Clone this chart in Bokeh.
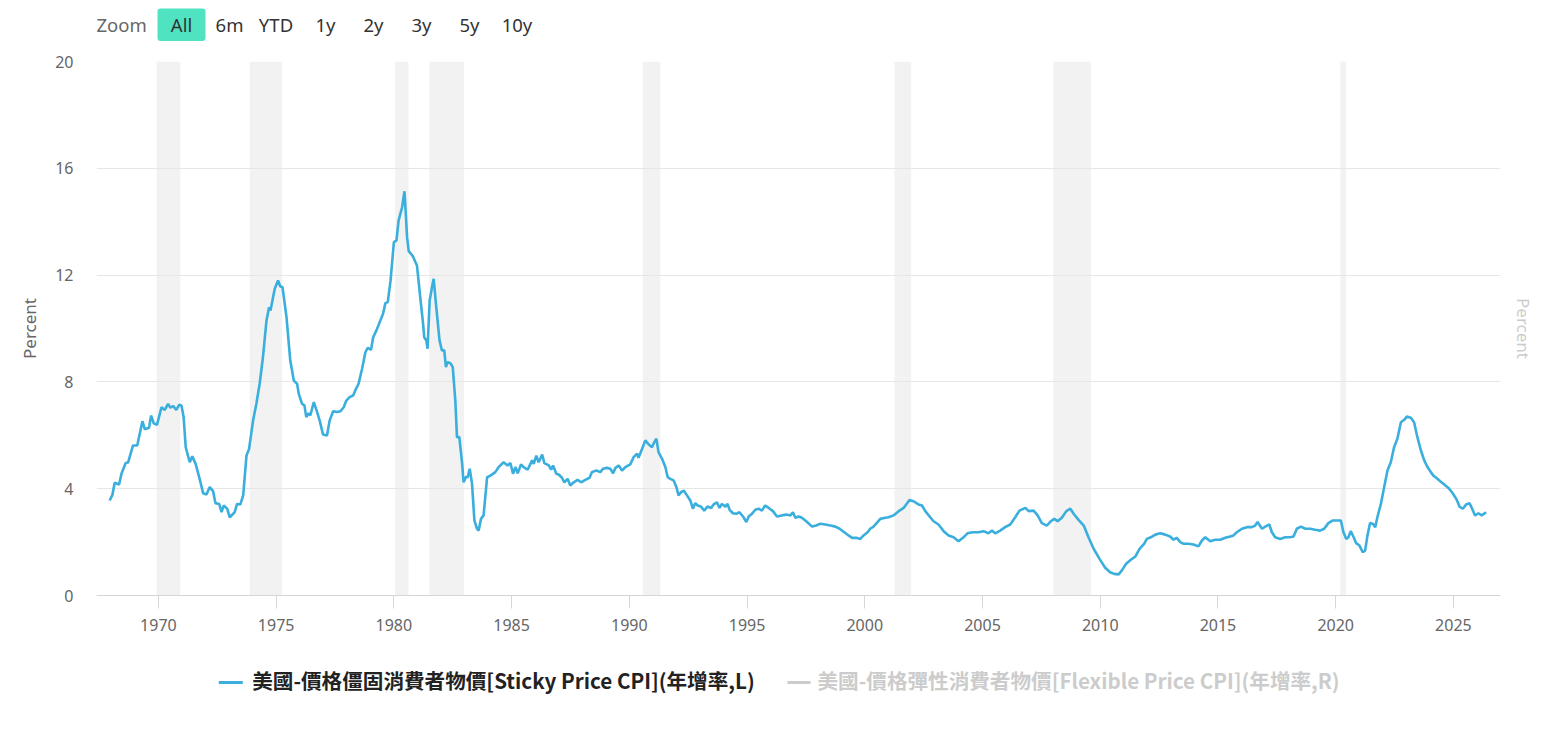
from bokeh.plotting import figure
from bokeh.layouts import column
from bokeh.models import (Range1d, LinearAxis, FixedTicker, Label, BoxAnnotation)
from bokeh.embed import file_html
from bokeh.resources import INLINE

# ---------------- data ----------------
years = [
    1967.93, 1968.05, 1968.14, 1968.33, 1968.43, 1968.61, 1968.71, 1968.92, 1969.10, 1969.32,
    1969.42, 1969.60, 1969.69, 1969.80, 1969.94, 1970.13, 1970.27, 1970.41, 1970.51, 1970.62,
    1970.76, 1970.88, 1970.98, 1971.07, 1971.16, 1971.33, 1971.44, 1971.58, 1971.75, 1971.90,
    1972.04, 1972.18, 1972.32, 1972.42, 1972.58, 1972.68, 1972.77, 1972.92, 1973.03, 1973.24,
    1973.34, 1973.48, 1973.60, 1973.74, 1973.85, 1974.02, 1974.16, 1974.30, 1974.44, 1974.59,
    1974.70, 1974.76, 1974.94, 1975.08, 1975.18, 1975.27, 1975.44, 1975.60, 1975.75, 1975.89,
    1975.96, 1976.10, 1976.20, 1976.28, 1976.38, 1976.45, 1976.60, 1976.74, 1976.85, 1976.99,
    1977.16, 1977.27, 1977.42, 1977.59, 1977.73, 1977.87, 1977.98, 1978.12, 1978.27, 1978.36,
    1978.50, 1978.65, 1978.79, 1978.89, 1979.03, 1979.12, 1979.26, 1979.40, 1979.54, 1979.64,
    1979.74, 1979.86, 1980.00, 1980.11, 1980.20, 1980.35, 1980.45, 1980.49, 1980.56, 1980.63,
    1980.81, 1980.98, 1981.12, 1981.24, 1981.29, 1981.38, 1981.43, 1981.52, 1981.62, 1981.69,
    1981.80, 1981.94, 1982.04, 1982.14, 1982.21, 1982.28, 1982.40, 1982.50, 1982.61, 1982.68,
    1982.78, 1982.90, 1982.96, 1983.08, 1983.13, 1983.22, 1983.32, 1983.42, 1983.53, 1983.60,
    1983.70, 1983.81, 1983.96, 1984.10, 1984.31, 1984.45, 1984.66, 1984.83, 1984.95, 1985.06,
    1985.16, 1985.26, 1985.40, 1985.51, 1985.68, 1985.87, 1985.94, 1986.05, 1986.15, 1986.30,
    1986.39, 1986.58, 1986.68, 1986.76, 1986.90, 1987.00, 1987.14, 1987.24, 1987.38, 1987.49,
    1987.64, 1987.80, 1987.95, 1988.13, 1988.31, 1988.41, 1988.60, 1988.77, 1988.88, 1989.05,
    1989.19, 1989.31, 1989.41, 1989.55, 1989.69, 1989.83, 1990.04, 1990.18, 1990.33, 1990.39,
    1990.54, 1990.68, 1990.82, 1990.96, 1991.06, 1991.15, 1991.24, 1991.39, 1991.53, 1991.63,
    1991.74, 1991.88, 1992.00, 1992.09, 1992.20, 1992.31, 1992.48, 1992.59, 1992.70, 1992.80,
    1992.90, 1993.04, 1993.18, 1993.32, 1993.47, 1993.58, 1993.72, 1993.83, 1993.93, 1994.08,
    1994.17, 1994.26, 1994.40, 1994.54, 1994.68, 1994.85, 1994.97, 1995.07, 1995.21, 1995.35,
    1995.49, 1995.63, 1995.77, 1995.92, 1996.10, 1996.27, 1996.48, 1996.67, 1996.84, 1996.95,
    1997.05, 1997.19, 1997.33, 1997.55, 1997.76, 1997.94, 1998.11, 1998.32, 1998.54, 1998.75,
    1998.93, 1999.13, 1999.31, 1999.46, 1999.64, 1999.81, 1999.95, 2000.12, 2000.23, 2000.37,
    2000.54, 2000.66, 2000.87, 2001.01, 2001.22, 2001.44, 2001.65, 2001.90, 2002.07, 2002.28,
    2002.43, 2002.57, 2002.78, 2002.92, 2003.13, 2003.35, 2003.56, 2003.77, 2003.98, 2004.17,
    2004.36, 2004.59, 2004.83, 2005.04, 2005.25, 2005.40, 2005.54, 2005.75, 2005.96, 2006.18,
    2006.39, 2006.57, 2006.82, 2006.96, 2007.17, 2007.34, 2007.52, 2007.73, 2007.90, 2008.05,
    2008.19, 2008.37, 2008.56, 2008.73, 2008.87, 2009.08, 2009.30, 2009.50, 2009.72, 2009.97,
    2010.21, 2010.42, 2010.59, 2010.78, 2010.92, 2011.10, 2011.30, 2011.49, 2011.67, 2011.87,
    2011.98, 2012.15, 2012.34, 2012.55, 2012.76, 2012.97, 2013.11, 2013.25, 2013.40, 2013.53,
    2013.75, 2013.96, 2014.17, 2014.32, 2014.46, 2014.67, 2014.88, 2015.10, 2015.31, 2015.52,
    2015.66, 2015.80, 2016.02, 2016.23, 2016.44, 2016.58, 2016.68, 2016.87, 2017.01, 2017.18,
    2017.29, 2017.43, 2017.64, 2017.86, 2018.07, 2018.21, 2018.35, 2018.52, 2018.71, 2018.92,
    2019.13, 2019.34, 2019.51, 2019.69, 2019.88, 2020.05, 2020.22, 2020.33, 2020.45, 2020.54,
    2020.64, 2020.75, 2020.87, 2021.01, 2021.15, 2021.25, 2021.35, 2021.46, 2021.58, 2021.68,
    2021.77, 2021.92, 2022.06, 2022.20, 2022.34, 2022.48, 2022.62, 2022.77, 2022.91, 2023.02,
    2023.19, 2023.33, 2023.47, 2023.62, 2023.76, 2023.90, 2024.04, 2024.15, 2024.27, 2024.44,
    2024.61, 2024.79, 2024.97, 2025.12, 2025.26, 2025.40, 2025.54, 2025.68, 2025.78, 2025.92,
    2026.06, 2026.20, 2026.39,
]
sticky_cpi = [
    3.56, 3.78, 4.22, 4.16, 4.56, 4.96, 4.98, 5.62, 5.62, 6.53,
    6.23, 6.28, 6.74, 6.45, 6.39, 7.05, 6.95, 7.18, 7.03, 7.10,
    6.95, 7.14, 7.12, 6.68, 5.55, 4.99, 5.21, 4.93, 4.37, 3.83,
    3.78, 4.06, 3.91, 3.46, 3.43, 3.12, 3.37, 3.25, 2.93, 3.12,
    3.43, 3.41, 3.75, 5.24, 5.49, 6.55, 7.18, 7.93, 8.93, 10.30,
    10.80, 10.67, 11.49, 11.80, 11.57, 11.55, 10.42, 8.80, 8.05, 7.93,
    7.55, 7.18, 7.12, 6.68, 6.83, 6.74, 7.24, 6.87, 6.55, 6.03,
    5.99, 6.55, 6.90, 6.87, 6.90, 7.05, 7.30, 7.43, 7.49, 7.68,
    7.93, 8.49, 9.11, 9.28, 9.20, 9.67, 9.93, 10.24, 10.55, 10.95,
    10.99, 11.80, 13.23, 13.30, 14.04, 14.54, 15.14, 14.54, 13.42, 12.90,
    12.70, 12.36, 11.17, 10.18, 9.67, 9.55, 9.24, 11.05, 11.55, 11.86,
    10.80, 9.55, 9.18, 9.18, 8.55, 8.74, 8.70, 8.55, 7.30, 5.93,
    5.93, 4.93, 4.24, 4.46, 4.41, 4.75, 4.18, 2.81, 2.50, 2.43,
    2.87, 3.00, 4.43, 4.49, 4.62, 4.81, 4.99, 4.87, 4.96, 4.56,
    4.81, 4.58, 4.91, 4.81, 4.71, 5.06, 4.93, 5.24, 4.99, 5.28,
    4.96, 4.87, 4.71, 4.87, 4.56, 4.53, 4.41, 4.24, 4.37, 4.12,
    4.24, 4.33, 4.24, 4.33, 4.41, 4.62, 4.68, 4.62, 4.75, 4.78,
    4.75, 4.58, 4.78, 4.87, 4.68, 4.81, 4.91, 5.18, 5.31, 5.16,
    5.49, 5.81, 5.66, 5.55, 5.74, 5.87, 5.37, 5.12, 4.81, 4.43,
    4.37, 4.31, 4.06, 3.75, 3.87, 3.93, 3.71, 3.56, 3.25, 3.46,
    3.37, 3.33, 3.18, 3.33, 3.28, 3.41, 3.49, 3.28, 3.43, 3.33,
    3.43, 3.21, 3.08, 3.06, 3.12, 2.93, 2.75, 2.96, 3.06, 3.21,
    3.25, 3.18, 3.37, 3.28, 3.16, 2.96, 3.00, 3.03, 3.00, 3.12,
    2.91, 2.96, 2.91, 2.75, 2.58, 2.62, 2.69, 2.66, 2.62, 2.58,
    2.50, 2.37, 2.25, 2.16, 2.16, 2.12, 2.25, 2.37, 2.50, 2.58,
    2.75, 2.87, 2.91, 2.93, 3.00, 3.16, 3.28, 3.58, 3.53, 3.41,
    3.37, 3.16, 2.93, 2.78, 2.66, 2.41, 2.25, 2.18, 2.03, 2.16,
    2.33, 2.37, 2.37, 2.41, 2.33, 2.43, 2.33, 2.43, 2.56, 2.66,
    2.93, 3.18, 3.28, 3.16, 3.18, 3.00, 2.71, 2.62, 2.78, 2.87,
    2.78, 2.91, 3.16, 3.25, 3.06, 2.83, 2.62, 2.18, 1.75, 1.37,
    1.04, 0.87, 0.81, 0.79, 0.94, 1.19, 1.34, 1.46, 1.75, 1.94,
    2.12, 2.18, 2.28, 2.33, 2.28, 2.21, 2.09, 2.16, 2.00, 1.94,
    1.94, 1.91, 1.84, 2.06, 2.18, 2.03, 2.09, 2.09, 2.16, 2.21,
    2.25, 2.37, 2.50, 2.56, 2.56, 2.62, 2.75, 2.50, 2.58, 2.66,
    2.37, 2.18, 2.12, 2.18, 2.18, 2.21, 2.50, 2.58, 2.50, 2.50,
    2.46, 2.43, 2.50, 2.71, 2.81, 2.81, 2.81, 2.37, 2.12, 2.18,
    2.41, 2.21, 1.96, 1.87, 1.62, 1.68, 2.25, 2.71, 2.69, 2.56,
    2.93, 3.43, 4.06, 4.68, 4.99, 5.55, 5.87, 6.49, 6.58, 6.70,
    6.66, 6.49, 5.93, 5.43, 5.06, 4.81, 4.62, 4.49, 4.41, 4.28,
    4.16, 4.03, 3.83, 3.62, 3.33, 3.25, 3.41, 3.46, 3.28, 3.00,
    3.08, 3.00, 3.12,
]

recession_start = [1969.92, 1973.88, 1980.06, 1981.51, 1990.57, 2001.26, 2008.01, 2020.20]
recession_end = [1970.93, 1975.25, 1980.62, 1982.98, 1991.32, 2001.97, 2009.61, 2020.44]

x_ticks = [1970, 1975, 1980, 1985, 1990, 1995, 2000, 2005, 2010, 2015, 2020, 2025]
y_ticks = [0, 4, 8, 12, 16, 20]
zoom_buttons = ["All", "6m", "YTD", "1y", "2y", "3y", "5y", "10y"]
series_names = ["美國-價格僵固消費者物價[Sticky Price CPI](年增率,L)",
                "美國-價格彈性消費者物價[Flexible Price CPI](年增率,R)"]
series_colors = ["#3aaedd", "#cccccc"]
series_text_colors = ["#222222", "#cccccc"]

LATIN = "Noto Sans"
CJK = "Noto Sans CJK TC"
W = 1544
FRAME_L, FRAME_R = 96, 1500   # page pixels of the plot area's left/right edges


def bare(y0, y1):
    """A strip whose data coordinates are page pixels (x right, y down)."""
    f = figure(width=W, height=abs(y1 - y0), output_backend="svg",
               toolbar_location=None,
               x_range=Range1d(FRAME_L, FRAME_R), y_range=Range1d(y1, y0),
               x_axis_type=None, y_axis_type=None,
               min_border_left=FRAME_L, min_border_right=W - FRAME_R,
               min_border_top=0, min_border_bottom=0)
    f.outline_line_color = None
    f.grid.visible = False
    f.background_fill_color = "white"
    f.border_fill_color = "white"
    return f


# ---------------- range selector bar (top) ----------------
top = bare(0, 48)
top.add_layout(BoxAnnotation(left=157, right=205, top=8, bottom=40.5,
                             fill_color="#4fe3c2", fill_alpha=1.0, line_color=None,
                             border_radius=3))
top.add_layout(Label(x=96, y=24, text="Zoom", text_font=LATIN, text_font_size="18.5px",
                     text_color="#666666", text_align="left", text_baseline="middle"))
button_centers = [181, 229, 275.5, 325, 373, 421, 469, 516.5]
for txt, cx in zip(zoom_buttons, button_centers):
    top.add_layout(Label(x=cx, y=24, text=txt, text_font=LATIN, text_font_size="18.5px",
                         text_color="#333333", text_align="center",
                         text_baseline="middle"))

# ---------------- main chart ----------------
p = figure(width=W, height=597, output_backend="svg", toolbar_location=None,
           x_range=Range1d(1967.37, 2027.0), y_range=Range1d(0, 20),
           min_border_left=FRAME_L, min_border_right=W - FRAME_R, min_border_top=13,
           min_border_bottom=50)
p.outline_line_color = None
p.background_fill_color = "white"
p.border_fill_color = "white"

bands = p.quad(left=recession_start, right=recession_end, bottom=0, top=20,
               fill_color="#f2f2f2", line_color=None)
bands.level = "image"

p.xgrid.visible = False
p.ygrid.ticker = FixedTicker(ticks=y_ticks)
p.ygrid.grid_line_color = "#e6e6e6"
p.ygrid.grid_line_width = 1

xa = p.xaxis[0]
xa.ticker = FixedTicker(ticks=x_ticks)
xa.axis_line_color = "#d6d6d6"
xa.major_tick_line_color = "#d6d6d6"
xa.major_tick_in = 0
xa.major_tick_out = 13
xa.minor_tick_line_color = None
xa.major_label_standoff = 10
xa.major_label_text_color = "#666666"
xa.major_label_text_font = LATIN
xa.major_label_text_font_size = "16px"

ya = p.yaxis[0]
ya.ticker = FixedTicker(ticks=y_ticks)
ya.axis_line_color = None
ya.major_tick_line_color = None
ya.minor_tick_line_color = None
ya.major_tick_in = 0
ya.major_tick_out = 0
ya.major_label_standoff = 23
ya.major_label_text_color = "#666666"
ya.major_label_text_font = LATIN
ya.major_label_text_font_size = "16px"
ya.axis_label = "Percent"
ya.axis_label_text_font = LATIN
ya.axis_label_text_font_style = "normal"
ya.axis_label_text_font_size = "17px"
ya.axis_label_text_color = "#666666"
ya.axis_label_standoff = 11

ra = LinearAxis(ticker=FixedTicker(ticks=[]), axis_label="Percent")
ra.axis_line_color = None
ra.major_tick_line_color = None
ra.minor_tick_line_color = None
ra.major_tick_in = 0
ra.major_tick_out = 0
ra.minor_tick_out = 0
ra.major_label_standoff = 0
ra.axis_label_text_font = LATIN
ra.axis_label_text_font_style = "normal"
ra.axis_label_text_font_size = "17px"
ra.axis_label_text_color = "#cccccc"
ra.axis_label_standoff = 11
p.add_layout(ra, "right")

p.line(years, sticky_cpi, line_color=series_colors[0], line_width=2.6)

# ---------------- legend strip (bottom) ----------------
leg = bare(645, 713)
legend_glyph_x = [(218.3, 242.3), (787, 810)]
legend_text_x = [251.7, 817]
for name, col, tcol, (gx0, gx1), tx in zip(series_names, series_colors,
                                           series_text_colors, legend_glyph_x,
                                           legend_text_x):
    leg.add_layout(BoxAnnotation(left=gx0, right=gx1, top=680.5, bottom=683.5,
                                 fill_color=col, fill_alpha=1.0, line_color=None))
    leg.add_layout(Label(x=tx, y=679, text=name, text_font=CJK,
                         text_font_style="bold", text_font_size="20.6px",
                         text_color=tcol, text_align="left", text_baseline="middle"))

layout = column(top, p, leg, spacing=0)
open("out.html", "w").write(file_html(layout, INLINE))
